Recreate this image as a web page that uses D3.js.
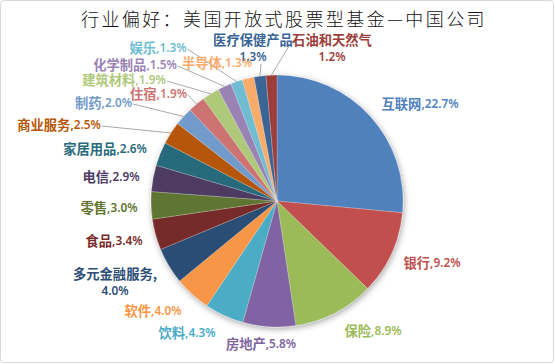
<!DOCTYPE html>
<html><head><meta charset="utf-8">
<script src="https://cdn.jsdelivr.net/npm/d3@7"></script>
<style>
html,body{margin:0;padding:0;background:#fff;}
svg{display:block;}
</style></head>
<body>
<script>
// ---- data ----
const title = "行业偏好：美国开放式股票型基金—中国公司";
const categories = ["互联网","银行","保险","房地产","饮料","软件","多元金融服务","食品","零售","电信","家居用品","商业服务","制药","住宿","建筑材料","化学制品","娱乐","半导体","医疗保健产品","石油和天然气"];
const values = [22.7,9.2,8.9,5.8,4.3,4.0,4.0,3.4,3.0,2.9,2.6,2.5,2.0,1.9,1.9,1.5,1.3,1.3,1.3,1.2];
const colors = ["#4F81BD","#C0504D","#9BBB59","#8064A2","#4BACC6","#F79646","#2C4D75","#772C2A","#5F7530","#4D3B62","#276A7C","#B65708","#729ACA","#CD7371","#AFC97A","#9983B5","#6FBDD1","#F9AB6B","#3A6595","#9C3E3B"];

// ---- label layout (offset of label centre from pie centre; lines: 1 or 2; leader flag) ----
const labelLayout = [
  {dx:143,dy:-98,lines:1,leader:false},
  {dx:155,dy:61,lines:1,leader:false},
  {dx:96,dy:129,lines:1,leader:false},
  {dx:-16,dy:142,lines:1,leader:false},
  {dx:-90,dy:131,lines:1,leader:false},
  {dx:-124,dy:109,lines:1,leader:false},
  {dx:-162,dy:80,lines:2,leader:false},
  {dx:-163,dy:39,lines:1,leader:false},
  {dx:-168,dy:6,lines:1,leader:false},
  {dx:-166,dy:-25,lines:1,leader:false},
  {dx:-172,dy:-53,lines:1,leader:false},
  {dx:-218,dy:-77,lines:1,leader:true},
  {dx:-173.5,dy:-99,lines:1,leader:true},
  {dx:-118.5,dy:-108,lines:1,leader:true},
  {dx:-153,dy:-122,lines:1,leader:true},
  {dx:-142,dy:-137,lines:1,leader:true},
  {dx:-119,dy:-154,lines:1,leader:true},
  {dx:-60,dy:-139,lines:1,leader:false},
  {dx:-24,dy:-154,lines:2,leader:true},
  {dx:55,dy:-154,lines:2,leader:true}
];

const W = 555, H = 364;
const cx = 277, cy = 201, R = 126;

const svg = d3.select("body").append("svg").attr("width",W).attr("height",H);

const defs = svg.append("defs");
const f = defs.append("filter").attr("id","sh").attr("x","-20%").attr("y","-20%").attr("width","140%").attr("height","140%");
f.append("feDropShadow").attr("dx",1).attr("dy",2).attr("stdDeviation",3).attr("flood-color","#000").attr("flood-opacity",0.35);

svg.append("rect").attr("x",0.5).attr("y",0.5).attr("width",W-2).attr("height",H-2)
  .attr("rx",3).attr("fill","#fff").attr("stroke","#D9D9D9").attr("stroke-width",1);

svg.append("text").attr("x",284).attr("y",18).attr("text-anchor","middle").attr("dominant-baseline","central")
  .attr("font-family","Noto Sans CJK SC").attr("font-size",18).attr("font-weight",300).attr("letter-spacing",2.4)
  .attr("fill","#111").text(title);

const data = categories.map((c,i)=>({name:c,value:values[i],color:colors[i],layout:labelLayout[i]}));

const pie = d3.pie().value(d=>d.value).sort(null);
const arcs = pie(data);
const arc = d3.arc().innerRadius(0).outerRadius(R);

const g = svg.append("g").attr("transform",`translate(${cx},${cy})`);
const slices = g.append("g").attr("filter","url(#sh)");
slices.selectAll("path").data(arcs).join("path")
  .attr("d",arc).attr("fill",d=>d.data.color)
  .attr("stroke","#fff").attr("stroke-opacity",0.35).attr("stroke-width",0.6);

const fmt = v => d3.format(".1f")(v) + "%";
const lg = g.append("g");
const tg = g.append("g");

arcs.forEach(a=>{
  const d = a.data, L = d.layout;
  const t = tg.append("text").attr("text-anchor","middle").attr("dominant-baseline","central")
    .attr("fill",d.color).attr("font-family","'Noto Sans','Noto Sans CJK SC'");
  if (L.lines === 1) {
    t.attr("x",L.dx).attr("y",L.dy);
    t.append("tspan").attr("font-weight","bold").attr("font-size",13.3).attr("font-family","'Noto Sans CJK SC'").text(d.name);
    t.append("tspan").attr("font-size",11.8).attr("font-weight",600).text("," + fmt(d.value));
  } else {
    const comma = d.name === categories[6] ? "," : "";
    t.append("tspan").attr("x",L.dx).attr("y",L.dy-8.5).attr("font-weight","bold").attr("font-size",13.3)
      .attr("font-family","'Noto Sans CJK SC'").text(d.name + comma);
    t.append("tspan").attr("x",L.dx).attr("y",L.dy+9).attr("font-size",11.8).attr("font-weight",600).text(fmt(d.value));
  }
  if (L.leader) {
    const mid = (a.startAngle + a.endAngle)/2;
    const tx = Math.sin(mid)*R, ty = -Math.cos(mid)*R;
    const b = t.node().getBBox();
    let sx, sy;
    if (tx > b.x + b.width) { sx = b.x + b.width + 1; sy = b.y + b.height/2 + 2; }
    else if (tx < b.x) { sx = b.x - 1; sy = b.y + b.height/2 - 4; }
    else { sx = tx + 1; sy = b.y + b.height; }
    lg.append("line").attr("x1",sx).attr("y1",sy).attr("x2",tx).attr("y2",ty)
      .attr("stroke","#A0A0A0").attr("stroke-width",0.9);
  }
});
</script>
</body></html>
